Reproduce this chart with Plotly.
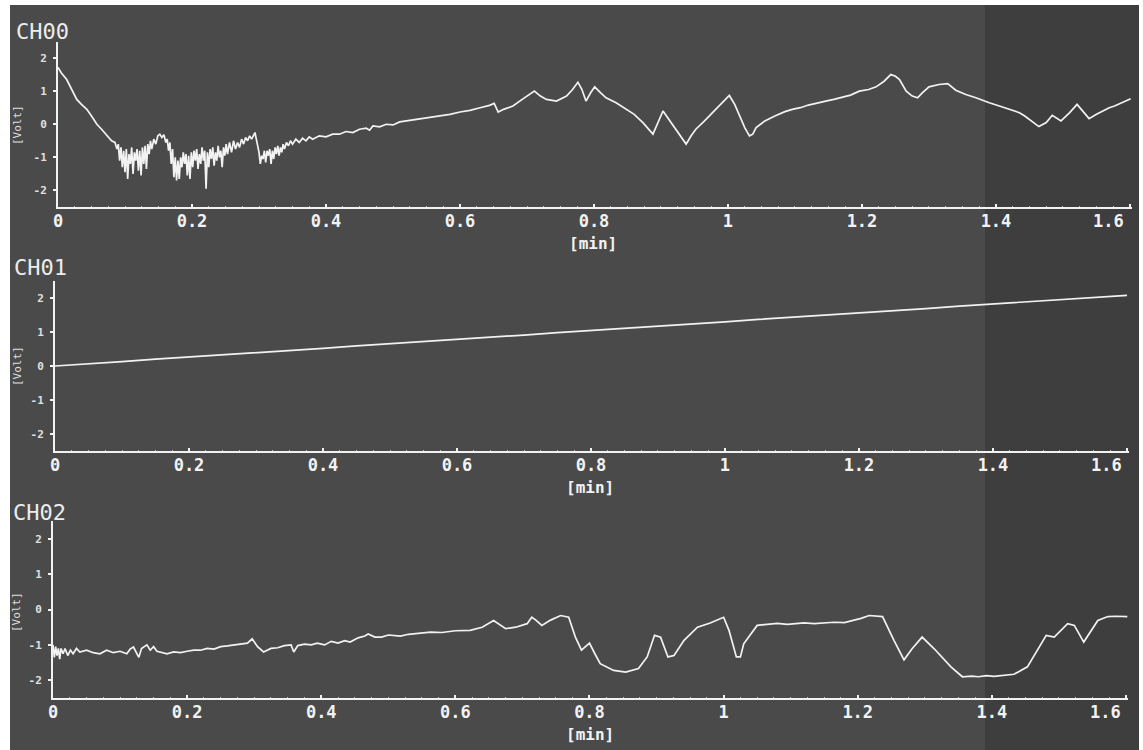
import plotly.graph_objects as go

# ---------------- data ----------------
ch00_t = [0.0, 0.005, 0.013, 0.02, 0.028, 0.035, 0.043, 0.05, 0.058, 0.065, 0.073, 0.08,
          0.085, 0.088, 0.090, 0.092, 0.094, 0.096, 0.098, 0.100, 0.102, 0.104, 0.106, 0.108,
          0.110, 0.112, 0.114, 0.116, 0.118, 0.120, 0.122, 0.124, 0.126, 0.128, 0.130, 0.132,
          0.134, 0.136, 0.138, 0.140, 0.143, 0.146, 0.149, 0.152, 0.155, 0.158, 0.161, 0.163,
          0.165, 0.167, 0.169, 0.171, 0.173, 0.175, 0.177, 0.179, 0.181, 0.183, 0.185, 0.187,
          0.189, 0.191, 0.193, 0.195, 0.197, 0.199, 0.201, 0.203, 0.205, 0.207, 0.209, 0.211,
          0.213, 0.215, 0.217, 0.219, 0.221, 0.223, 0.225, 0.227, 0.229, 0.231, 0.233, 0.235,
          0.237, 0.239, 0.241, 0.243, 0.245, 0.247, 0.249, 0.251, 0.253, 0.256, 0.259, 0.262,
          0.265, 0.268, 0.271, 0.274, 0.277, 0.280, 0.283, 0.286, 0.289, 0.292, 0.294, 0.296,
          0.298, 0.300, 0.302, 0.304, 0.306, 0.308, 0.310, 0.312, 0.314, 0.316, 0.318, 0.320,
          0.322, 0.324, 0.326, 0.328, 0.330, 0.332, 0.334, 0.336, 0.338, 0.341, 0.344, 0.347,
          0.350, 0.355, 0.360, 0.365, 0.370, 0.375, 0.380, 0.390, 0.400, 0.410, 0.420, 0.430,
          0.440, 0.450, 0.460, 0.465, 0.470, 0.480, 0.490, 0.500, 0.510, 0.520, 0.530, 0.540,
          0.555, 0.570, 0.585, 0.600, 0.615, 0.630, 0.644, 0.651, 0.657, 0.665, 0.679, 0.695,
          0.711, 0.720, 0.729, 0.744, 0.759, 0.768, 0.776, 0.782, 0.788, 0.795, 0.801, 0.810,
          0.818, 0.833, 0.848, 0.860, 0.873, 0.888, 0.903, 0.915, 0.925, 0.9375, 0.945, 0.952,
          0.965, 0.977, 0.990, 1.002, 1.010, 1.017, 1.025, 1.032, 1.037, 1.042, 1.055, 1.070,
          1.085, 1.096, 1.108, 1.120, 1.133, 1.146, 1.158, 1.170, 1.183, 1.196, 1.210, 1.221,
          1.233, 1.243, 1.250, 1.256, 1.266, 1.275, 1.283, 1.290, 1.300, 1.315, 1.328, 1.340,
          1.355, 1.370, 1.380, 1.390, 1.405, 1.420, 1.435, 1.443, 1.450, 1.457, 1.464, 1.475,
          1.484, 1.497, 1.510, 1.521, 1.530, 1.539, 1.550, 1.560, 1.569, 1.577, 1.585, 1.593,
          1.601]
ch00_v = [1.72, 1.55, 1.35, 1.05, 0.75, 0.6, 0.45, 0.25, 0.0, -0.15, -0.35, -0.5,
          -0.55, -0.75, -0.6, -1.1, -0.7, -1.3, -0.8, -1.45, -0.75, -1.65, -0.9, -1.2,
          -0.7, -1.5, -0.85, -1.1, -0.75, -1.4, -0.8, -1.55, -0.7, -1.2, -0.65, -1.35,
          -0.6, -0.9, -0.5, -0.75, -0.45, -0.6, -0.35, -0.3, -0.4, -0.32, -0.55, -0.45,
          -0.8, -0.55, -1.2, -0.75, -1.6, -1.0, -1.7, -1.1, -1.65, -1.0, -1.3, -0.85,
          -1.2, -0.9, -1.55, -0.95, -1.65, -0.85, -1.3, -0.8, -1.1, -0.75, -1.35, -0.9,
          -1.2, -0.7, -1.1, -0.8, -1.95, -0.85, -1.3, -0.75, -1.05, -0.7, -1.25, -0.85,
          -1.1, -0.65, -1.0, -0.8, -1.3, -0.7, -0.95, -0.6, -0.9, -0.55, -0.85, -0.5,
          -0.75, -0.55, -0.7, -0.45, -0.6, -0.4, -0.5, -0.35, -0.45, -0.3, -0.25, -0.45,
          -0.65, -0.85, -1.2, -0.95, -1.05, -0.8, -1.15, -0.8, -0.95, -0.75, -1.2, -0.8,
          -1.05, -0.7, -0.9, -0.65, -0.95, -0.7, -0.85, -0.6, -0.75, -0.55, -0.65, -0.5,
          -0.6, -0.45, -0.55, -0.42, -0.5, -0.38, -0.45, -0.35, -0.38, -0.3, -0.3, -0.22,
          -0.25, -0.15, -0.12, -0.18, -0.05, -0.08, 0.0, -0.02, 0.07, 0.1, 0.12, 0.15,
          0.2, 0.25, 0.3, 0.37, 0.42, 0.5, 0.57, 0.63, 0.37, 0.45, 0.55, 0.78,
          1.0, 0.85, 0.75, 0.7, 0.85, 1.05, 1.27, 1.05, 0.7, 0.95, 1.13, 0.95,
          0.8, 0.65, 0.45, 0.3, 0.05, -0.3, 0.4, 0.05, -0.25, -0.6, -0.35, -0.15,
          0.1, 0.35, 0.6, 0.87, 0.6, 0.25, -0.1, -0.35, -0.3, -0.1, 0.1, 0.25,
          0.38, 0.45, 0.5, 0.58, 0.63, 0.7, 0.75, 0.82, 0.88, 1.0, 1.05, 1.13,
          1.3, 1.5, 1.45, 1.35, 1.0, 0.85, 0.8, 0.95, 1.13, 1.2, 1.23, 1.03,
          0.9, 0.8, 0.72, 0.65, 0.55, 0.45, 0.35, 0.25, 0.15, 0.05, -0.07, 0.05,
          0.27, 0.1, 0.35, 0.6, 0.4, 0.17, 0.3, 0.4, 0.5, 0.55, 0.62, 0.7,
          0.77]

ch01_t = [0.0, 0.02, 0.05, 0.1, 0.15, 0.2, 0.25, 0.3, 0.35, 0.4, 0.45, 0.5, 0.55, 0.6,
          0.65, 0.7, 0.75, 0.8, 0.85, 0.9, 0.95, 1.0, 1.05, 1.1, 1.15, 1.2, 1.25, 1.3,
          1.35, 1.4, 1.45, 1.5, 1.55, 1.6]
ch01_v = [0.0, 0.03, 0.06, 0.13, 0.2, 0.26, 0.33, 0.39, 0.46, 0.52, 0.59, 0.65, 0.72, 0.78,
          0.85, 0.91, 0.98, 1.04, 1.11, 1.17, 1.24, 1.3, 1.37, 1.43, 1.5, 1.56, 1.63, 1.69,
          1.76, 1.82, 1.89, 1.95, 2.02, 2.08]

ch02_t = [0.0, 0.002, 0.004, 0.006, 0.008, 0.010, 0.012, 0.015, 0.018, 0.022, 0.026, 0.030,
          0.035, 0.040, 0.050, 0.060, 0.070, 0.080, 0.090, 0.100, 0.110, 0.115, 0.120, 0.124,
          0.128, 0.132, 0.136, 0.140, 0.145, 0.150, 0.155, 0.160, 0.170, 0.180, 0.190, 0.200,
          0.210, 0.220, 0.230, 0.240, 0.250, 0.260, 0.270, 0.280, 0.290, 0.297, 0.305, 0.314,
          0.325, 0.335, 0.345, 0.355, 0.359, 0.365, 0.375, 0.385, 0.394, 0.405, 0.415, 0.425,
          0.435, 0.443, 0.455, 0.465, 0.470, 0.480, 0.490, 0.500, 0.518, 0.530, 0.545, 0.563,
          0.580, 0.600, 0.622, 0.640, 0.657, 0.667, 0.675, 0.690, 0.707, 0.714, 0.720, 0.729,
          0.742, 0.757, 0.769, 0.774, 0.779, 0.788, 0.800, 0.808, 0.816, 0.836, 0.854, 0.873,
          0.886, 0.897, 0.906, 0.917, 0.926, 0.941, 0.961, 0.980, 1.000, 1.008, 1.019, 1.025,
          1.030, 1.050, 1.065, 1.080, 1.095, 1.105, 1.120, 1.135, 1.150, 1.165, 1.180, 1.194,
          1.205, 1.217, 1.228, 1.237, 1.254, 1.269, 1.281, 1.296, 1.314, 1.339, 1.356, 1.370,
          1.380, 1.392, 1.403, 1.418, 1.433, 1.453, 1.468, 1.481, 1.493, 1.513, 1.523, 1.537,
          1.558, 1.573, 1.585, 1.602]
ch02_v = [-1.0, -1.35, -1.05, -1.3, -1.1, -1.4, -1.1, -1.25, -1.1, -1.3, -1.15, -1.25,
          -1.1, -1.2, -1.15, -1.22, -1.25, -1.15, -1.22, -1.18, -1.25, -1.12, -1.06, -1.2,
          -1.35, -1.1, -1.05, -1.0, -1.15, -1.05, -1.18, -1.2, -1.25, -1.2, -1.22, -1.18,
          -1.15, -1.15, -1.1, -1.12, -1.05, -1.03, -1.01, -0.98, -0.95, -0.83, -1.05, -1.2,
          -1.1, -1.08, -1.02, -1.0, -1.2, -1.02, -0.98, -1.0, -0.95, -1.0, -0.9, -0.95,
          -0.88, -0.92, -0.8, -0.75, -0.69, -0.78, -0.78, -0.72, -0.75, -0.7, -0.68, -0.64,
          -0.65, -0.6, -0.59, -0.5, -0.31, -0.45, -0.54, -0.5, -0.4, -0.22, -0.3, -0.45,
          -0.3, -0.17, -0.22, -0.5, -0.78, -1.15, -0.95, -1.25, -1.53, -1.72, -1.77, -1.67,
          -1.34, -0.73, -0.78, -1.34, -1.3, -0.87, -0.5, -0.38, -0.22, -0.59, -1.34, -1.34,
          -0.97, -0.45, -0.42, -0.39, -0.42, -0.4, -0.38, -0.4, -0.38, -0.36, -0.37, -0.31,
          -0.25, -0.17, -0.18, -0.2, -0.87, -1.42, -1.11, -0.78, -1.11, -1.62, -1.9, -1.88,
          -1.9, -1.87, -1.89, -1.86, -1.83, -1.62, -1.15, -0.73, -0.78, -0.4, -0.45, -0.92,
          -0.31, -0.2, -0.19, -0.2]

channel_names = ["CH00", "CH01", "CH02"]
x_ticks = [0, 0.2, 0.4, 0.6, 0.8, 1.0, 1.2, 1.4, 1.6]
x_tick_text = ["0", "0.2", "0.4", "0.6", "0.8", "1", "1.2", "1.4", "1.6"]
y_ticks = [-2, -1, 0, 1, 2]
y_tick_text = ["-2", "-1", "0", "1", "2"]

# ---------------- layout ----------------
W, H = 1143, 750
BG = "#4a4a4a"
BG_DARK = "#3e3e3e"
FG = "#f2f2f2"
MONO = "DejaVu Sans Mono"

# pixel geometry of each panel: (left, right, top, bottom)
panels = [(58, 1132, 41.5, 207), (55, 1129, 281, 451), (53, 1128, 521, 698)]
series = [(ch00_t, ch00_v), (ch01_t, ch01_v), (ch02_t, ch02_v)]
title_pos = [(14, 31), (12, 268), (11, 512)]
min_pos = [(593, 243), (590, 488), (590, 734)]
volt_pos = [(18, 125), (17, 366), (16, 612)]
last_label_x = [1108, 1106, 1105]

fig = go.Figure()
layout = dict(
    width=W, height=H, autosize=False, margin=dict(l=0, r=0, t=0, b=0, autoexpand=False),
    paper_bgcolor="white", plot_bgcolor="rgba(0,0,0,0)",
    showlegend=False, shapes=[], annotations=[],
)
layout["shapes"].append(dict(type="rect", xref="paper", yref="paper", layer="below",
                             x0=10 / W, x1=1139 / W, y0=0, y1=1 - 5 / H,
                             fillcolor=BG, line=dict(width=0)))
layout["shapes"].append(dict(type="rect", xref="paper", yref="paper", layer="below",
                             x0=985 / W, x1=1139 / W, y0=0, y1=1 - 5 / H,
                             fillcolor=BG_DARK, line=dict(width=0)))

tick_font = dict(family=MONO, size=17, color=FG, weight="bold")
for i, ((l, r, t, b), (tx, ty)) in enumerate(zip(panels, series)):
    n = "" if i == 0 else str(i + 1)
    fig.add_trace(go.Scatter(x=tx, y=ty, mode="lines", xaxis="x" + n, yaxis="y" + n,
                             line=dict(color=FG, width=1.7), hoverinfo="skip"))
    layout["xaxis" + n] = dict(
        domain=[l / W, r / W], anchor="y" + n, range=[0, 1.603], automargin=False,
        showgrid=False, zeroline=False, showline=True, linecolor=FG, linewidth=2,
        ticks="inside", ticklen=3, tickwidth=2, tickcolor=FG,
        tickvals=x_ticks, ticktext=x_tick_text[:-1] + [""],
        tickfont=tick_font, ticklabelstandoff=-2,
        minor=dict(ticks="inside", ticklen=1, tickwidth=1, tickcolor="#bbbbbb", dtick=0.025),
    )
    layout["yaxis" + n] = dict(
        domain=[1 - b / H, 1 - t / H], anchor="x" + n, range=[-2.5, 2.5], automargin=False,
        showgrid=False, zeroline=False, showline=True, linecolor=FG, linewidth=2,
        ticks="outside", ticklen=3, tickwidth=2, tickcolor=FG,
        tickvals=y_ticks, ticktext=y_tick_text, ticklabelstandoff=4,
        tickfont=dict(family=MONO, size=11, color="#e0e0e0", weight="bold"),
    )
    # last x label is drawn pulled inward, as on the screen
    layout["annotations"].append(dict(text=x_tick_text[-1], x=last_label_x[i] / W,
                                      y=1 - (b + 14) / H, xref="paper", yref="paper",
                                      xanchor="center", yanchor="middle", showarrow=False,
                                      font=tick_font))
    cx, cy = title_pos[i]
    layout["annotations"].append(dict(text=channel_names[i], x=cx / W, y=1 - cy / H,
                                      xref="paper", yref="paper", xanchor="left", yanchor="middle",
                                      showarrow=False, font=dict(family=MONO, size=22, color="#ececec")))
    mx, my = min_pos[i]
    layout["annotations"].append(dict(text="[min]", x=mx / W, y=1 - my / H,
                                      xref="paper", yref="paper", xanchor="center", yanchor="middle",
                                      showarrow=False,
                                      font=dict(family=MONO, size=16, color=FG, weight="bold")))
    vx, vy = volt_pos[i]
    layout["annotations"].append(dict(text="[Volt]", x=vx / W, y=1 - vy / H, textangle=-90,
                                      xref="paper", yref="paper", xanchor="center", yanchor="middle",
                                      showarrow=False, font=dict(family=MONO, size=11, color="#dddddd")))

fig.update_layout(**layout)
fig.write_html("out.html", config={"displayModeBar": False})
